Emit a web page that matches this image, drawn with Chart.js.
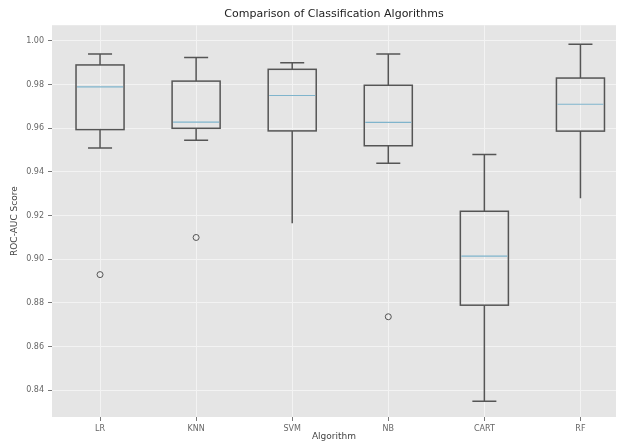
<!DOCTYPE html>
<html>
<head>
<meta charset="utf-8">
<script src="https://cdn.jsdelivr.net/npm/chart.js@4/dist/chart.umd.min.js"></script>
<style>
  body { margin: 0; background: #fff; }
  canvas { display: block; }
</style>
</head>
<body>
<canvas id="grafico" width="621" height="442"></canvas>
<script>
// Dados
const algorithms = ['LR', 'KNN', 'SVM', 'NB', 'CART', 'RF'];
const whiskerLow  = [0.951, 0.9545, 0.9165, 0.944, 0.835, 0.928];
const q1          = [0.9594, 0.960, 0.9588, 0.952, 0.879, 0.9587];
const medians     = [0.979, 0.9628, 0.975, 0.9627, 0.9015, 0.971];
const q3          = [0.989, 0.9816, 0.987, 0.9797, 0.922, 0.983];
const whiskerHigh = [0.994, 0.9924, 0.990, 0.994, 0.948, 0.9985];
const outliers    = [[0.893], [0.910], [], [0.8737], [], []];
// no original não aparece a barrinha no fim do bigode inferior de SVM e RF
const lowCap      = [true, true, false, true, true, false];
const yTicks = [0.84, 0.86, 0.88, 0.90, 0.92, 0.94, 0.96, 0.98, 1.00];

const corCaixa = '#555555';
const corMediana = '#7fb4cc';

// fundo cinza estilo ggplot
const fundo = {
  id: 'fundo',
  beforeDraw(chart) {
    const { ctx, chartArea: a } = chart;
    ctx.save();
    ctx.fillStyle = '#fff';
    ctx.fillRect(0, 0, chart.width, chart.height);
    ctx.fillStyle = '#e5e5e5';
    ctx.fillRect(a.left, a.top, a.right - a.left, a.bottom - a.top);
    ctx.restore();
  }
};

// caixas, bigodes e medianas
const caixas = {
  id: 'caixas',
  beforeDatasetsDraw(chart) {
    const { ctx } = chart;
    const xs = chart.scales.x, ys = chart.scales.y;
    const meia = xs.getPixelForValue(1.25) - xs.getPixelForValue(1);
    ctx.save();
    algorithms.forEach((_, i) => {
      const x = xs.getPixelForValue(i + 1);
      const yQ1 = ys.getPixelForValue(q1[i]);
      const yQ3 = ys.getPixelForValue(q3[i]);
      const yLo = ys.getPixelForValue(whiskerLow[i]);
      const yHi = ys.getPixelForValue(whiskerHigh[i]);
      const yMed = ys.getPixelForValue(medians[i]);
      ctx.lineWidth = 1.5;
      ctx.strokeStyle = corCaixa;
      ctx.beginPath();
      ctx.moveTo(x, yQ3); ctx.lineTo(x, yHi);
      ctx.moveTo(x - meia / 2, yHi); ctx.lineTo(x + meia / 2, yHi);
      ctx.moveTo(x, yQ1); ctx.lineTo(x, yLo);
      if (lowCap[i]) { ctx.moveTo(x - meia / 2, yLo); ctx.lineTo(x + meia / 2, yLo); }
      ctx.stroke();
      ctx.strokeRect(x - meia, yQ3, meia * 2, yQ1 - yQ3);
      ctx.strokeStyle = corMediana;
      ctx.lineWidth = 1.2;
      ctx.beginPath();
      ctx.moveTo(x - meia + 1, yMed); ctx.lineTo(x + meia - 1, yMed);
      ctx.stroke();
    });
    ctx.restore();
  }
};

const pontos = [];
outliers.forEach((lista, i) => lista.forEach(v => pontos.push({ x: i + 1, y: v })));

const fonte = { family: 'DejaVu Sans', size: 8 };

new Chart(document.getElementById('grafico'), {
  type: 'scatter',
  data: {
    datasets: [{
      data: pontos,
      pointStyle: 'circle',
      pointRadius: 3,
      borderColor: corCaixa,
      backgroundColor: 'rgba(0,0,0,0)',
      borderWidth: 1
    }]
  },
  options: {
    responsive: false,
    animation: false,
    layout: { padding: 0 },
    plugins: {
      legend: { display: false },
      tooltip: { enabled: false },
      title: {
        display: true,
        fullSize: false,
        text: 'Comparison of Classification Algorithms',
        color: '#222',
        font: { family: 'DejaVu Sans', size: 11, weight: 'normal' },
        padding: { top: 8, bottom: 4 }
      }
    },
    scales: {
      x: {
        type: 'linear',
        min: 0.5,
        max: 6.37,
        afterBuildTicks: s => { s.ticks = algorithms.map((_, i) => ({ value: i + 1 })); },
        afterFit: s => { s.height = 25; },
        ticks: { callback: v => algorithms[v - 1], color: '#666', font: fonte, padding: 3, maxRotation: 0 },
        grid: { color: '#f3f3f3', lineWidth: 1, tickColor: '#777', tickLength: 4 },
        border: { display: false },
        title: { display: true, text: 'Algorithm', color: '#444', font: { family: 'DejaVu Sans', size: 9 }, padding: 0 }
      },
      y: {
        min: 0.8278,
        max: 1.0072,
        afterBuildTicks: s => { s.ticks = yTicks.map(v => ({ value: v })); },
        afterFit: s => { s.width = 52; },
        ticks: { callback: v => v.toFixed(2), color: '#666', font: fonte, padding: 4 },
        grid: { color: '#f3f3f3', lineWidth: 1, tickColor: '#777', tickLength: 4 },
        border: { display: false },
        title: { display: true, text: 'ROC-AUC Score', color: '#444', font: { family: 'DejaVu Sans', size: 9 }, padding: { top: 9, bottom: 0 } }
      }
    }
  },
  plugins: [fundo, caixas]
});
</script>
</body>
</html>
